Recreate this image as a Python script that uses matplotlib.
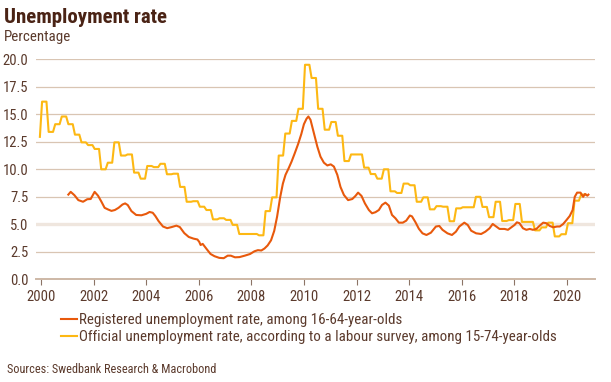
import numpy as np
import matplotlib
matplotlib.use("Agg")
import matplotlib.pyplot as plt

# --- data --------------------------------------------------------------------
# official (LFS) rate: one value for Dec 1999, then quarterly levels from 2000Q1
official_dec1999 = 12.95
official_quarterly = [
    16.15, 13.4, 14.1, 14.8,    # 2000
    14.1, 13.15, 12.45, 12.2,   # 2001
    11.85, 10.0, 10.6, 12.45,   # 2002
    11.25, 11.35, 9.7, 9.15,    # 2003
    10.3, 10.2, 10.5, 9.55,     # 2004
    9.6, 8.4, 7.05, 7.1,        # 2005
    6.6, 6.3, 5.45, 5.55,       # 2006
    5.4, 4.95, 4.12, 4.12,      # 2007
    4.12, 4.0, 6.2, 7.45,       # 2008
    11.25, 13.25, 14.4, 15.5,   # 2009
    19.5, 18.3, 15.5, 13.6,     # 2010
    14.3, 13.05, 10.75, 11.35,  # 2011
    11.35, 10.15, 9.57, 9.15,   # 2012
    10.0, 8.0, 7.85, 8.7,       # 2013
    8.55, 7.05, 7.45, 6.36,     # 2014
    6.65, 6.6, 5.28, 6.45,      # 2015
    6.55, 6.55, 7.5, 6.58,      # 2016
    5.65, 7.05, 5.3, 5.38,      # 2017
    6.85, 5.22, 5.22, 4.45,     # 2018
    4.72, 5.15, 3.9, 4.1,       # 2019
    5.1, 7.15, 7.7,             # 2020
]

reg_years = [
    2001.04, 2001.13, 2001.27, 2001.42, 2001.6, 2001.76, 2001.89,
    2002.04, 2002.17, 2002.3, 2002.42, 2002.55, 2002.68, 2002.81, 2002.95,
    2003.1, 2003.2, 2003.3, 2003.44, 2003.62, 2003.82,
    2004.0, 2004.13, 2004.25, 2004.35, 2004.47, 2004.64, 2004.8, 2004.97,
    2005.15, 2005.28, 2005.45, 2005.62, 2005.8, 2005.95,
    2006.02, 2006.07, 2006.15, 2006.3, 2006.45, 2006.6, 2006.78, 2006.95,
    2007.1, 2007.22, 2007.38, 2007.55, 2007.75, 2007.95,
    2008.12, 2008.25, 2008.38, 2008.5, 2008.62, 2008.75, 2008.87, 2008.98,
    2009.1, 2009.2, 2009.3, 2009.42, 2009.53, 2009.65, 2009.78, 2009.9,
    2010.0, 2010.1, 2010.17, 2010.25, 2010.38, 2010.51, 2010.63, 2010.76, 2010.89,
    2011.02, 2011.14, 2011.27, 2011.39, 2011.52, 2011.68, 2011.84, 2011.96,
    2012.06, 2012.19, 2012.32, 2012.47, 2012.59, 2012.72, 2012.85, 2012.97,
    2013.1, 2013.23, 2013.35, 2013.48, 2013.61, 2013.76, 2013.89,
    2014.03, 2014.11, 2014.24, 2014.37, 2014.51, 2014.66, 2014.83,
    2015.02, 2015.15, 2015.27, 2015.46, 2015.63, 2015.78, 2015.91,
    2016.1, 2016.23, 2016.36, 2016.55, 2016.74, 2016.9,
    2017.06, 2017.18, 2017.31, 2017.44, 2017.63, 2017.76, 2017.89,
    2018.01, 2018.1, 2018.2, 2018.33, 2018.46, 2018.59, 2018.71, 2018.84, 2018.97,
    2019.1, 2019.22, 2019.35, 2019.48, 2019.63, 2019.73, 2019.86, 2019.99,
    2020.11, 2020.22, 2020.3, 2020.39, 2020.52, 2020.62, 2020.69, 2020.78, 2020.82,
]
reg_values = [
    7.7, 7.95, 7.65, 7.2, 7.05, 7.28, 7.3,
    7.95, 7.6, 7.05, 6.5, 6.35, 6.22, 6.3, 6.5,
    6.8, 6.9, 6.75, 6.2, 5.85, 5.82,
    5.95, 6.12, 6.05, 5.75, 5.3, 4.8, 4.65, 4.75,
    4.88, 4.75, 4.2, 3.85, 3.7, 3.62,
    3.4, 3.12, 3.22, 2.75, 2.3, 2.1, 1.95, 1.92,
    2.15, 2.15, 2.0, 2.02, 2.15, 2.3,
    2.55, 2.65, 2.62, 2.8, 3.08, 3.55, 4.4, 5.7,
    7.5, 8.7, 9.5, 10.1, 10.7, 11.45, 12.3, 13.2,
    14.1, 14.6, 14.8, 14.5, 13.3, 12.06, 11.15, 10.6, 10.35,
    10.45, 10.25, 9.5, 8.4, 7.67, 7.2, 7.3, 7.58,
    7.88, 7.58, 6.9, 6.3, 6.0, 6.1, 6.3, 6.76,
    6.97, 6.7, 5.85, 5.55, 5.15, 5.15, 5.33,
    5.8, 5.72, 5.2, 4.6, 4.18, 4.03, 4.24,
    4.8, 4.85, 4.5, 4.18, 4.03, 4.33, 4.8,
    5.15, 4.94, 4.42, 4.18, 4.12, 4.33,
    4.64, 5.03, 4.8, 4.58, 4.58, 4.5, 4.73,
    4.94, 5.18, 5.1, 4.64, 4.5, 4.58, 4.5, 4.58, 4.88,
    5.15, 5.1, 4.85, 4.73, 4.8, 4.8, 5.03, 5.4,
    5.76, 6.3, 7.5, 7.88, 7.88, 7.5, 7.76, 7.6, 7.7,
]

x_ticks = list(range(2000, 2021, 2))
y_ticks = [0.0, 2.5, 5.0, 7.5, 10.0, 12.5, 15.0, 17.5, 20.0]

# monthly series: each quarter's level held for three months (mid-month dates)
official = np.concatenate([[official_dec1999], np.repeat(official_quarterly, 3)])
official_x = 1999 + (11.5 + np.arange(len(official))) / 12

# --- style ---------------------------------------------------------------------
plt.rcParams["font.family"] = ["Roboto Condensed", "DejaVu Sans"]

ORANGE = "#E8590C"
YELLOW = "#FDB813"
BROWN = "#4A2315"
TEXT = "#5B3A2C"
GRID = "#D9C5B3"

fig = plt.figure(figsize=(6.11, 3.82), dpi=100)
ax = fig.add_axes([0.0589, 0.2688, 0.9149, 0.576])

for y in y_ticks[1:]:
    if y == 5.0:
        ax.axhline(y, color="#EFE6DE", lw=2.4, zorder=0)
    else:
        ax.axhline(y, color=GRID, lw=0.9, zorder=0)

ax.plot(reg_years, reg_values, color=ORANGE, lw=1.5, zorder=3,
        label="Registered unemployment rate, among 16-64-year-olds")
ax.plot(official_x, official, color=YELLOW, lw=1.5, zorder=2,
        label="Official unemployment rate, according to a labour survey, among 15-74-year-olds")

ax.set_xlim(1999.81, 2021.07)
ax.set_ylim(0, 20)
ax.set_xticks(x_ticks)
ax.set_yticks(y_ticks)
ax.set_yticklabels([f"{v:.1f}" for v in y_ticks])
for s in ["top", "right", "left"]:
    ax.spines[s].set_visible(False)
ax.spines["bottom"].set_color("#CDB8A6")
ax.spines["bottom"].set_linewidth(1.4)
ax.tick_params(axis="x", length=4, width=0.8, color="#8C7466", labelsize=10.5,
               labelcolor=TEXT, pad=3.5)
ax.tick_params(axis="y", length=0, labelsize=10.5, labelcolor=TEXT, pad=5.5)

fig.text(0.006, 0.94, "Unemployment rate", fontsize=15, fontweight="bold",
         color=BROWN, va="baseline")
fig.text(0.006, 0.8935, "Percentage", fontsize=10.8, color=TEXT, va="baseline")

leg = fig.legend(loc="upper left", bbox_to_anchor=(0.0998, 0.18), frameon=False,
                 fontsize=10.8, handlelength=1.07, handletextpad=0.13,
                 labelspacing=0.18, borderaxespad=0, borderpad=0)
for t in leg.get_texts():
    t.set_color(TEXT)

fig.text(0.011, 0.0244, "Sources: Swedbank Research & Macrobond", fontsize=8.8,
         color=TEXT, va="baseline")

fig.savefig("out.png", dpi=100)
